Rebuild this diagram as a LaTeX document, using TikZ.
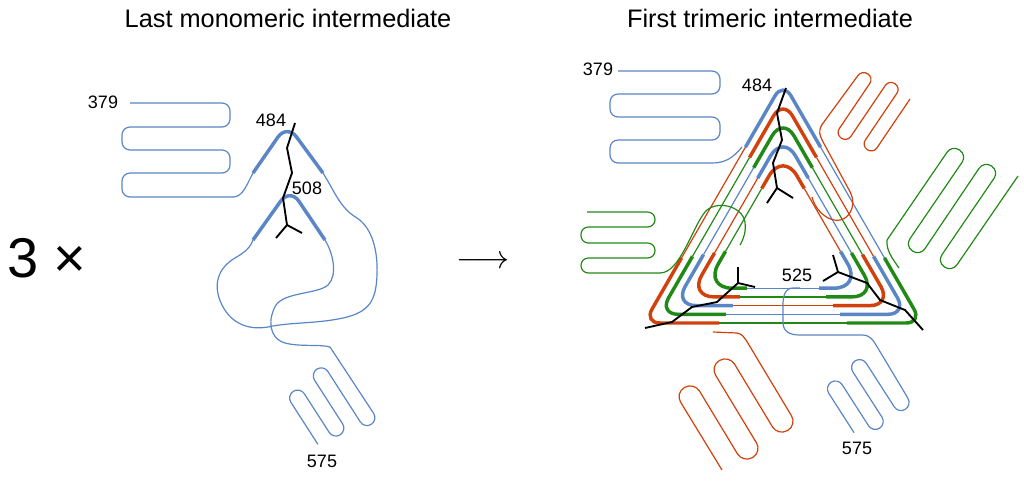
\documentclass[tikz,border=0pt]{standalone}
\usepackage{fontspec}
\setmainfont{Liberation Sans}
\usetikzlibrary{calc}
\definecolor{cb}{HTML}{5A86C6}
\definecolor{cr}{HTML}{D2400C}
\definecolor{cg}{HTML}{218A17}
\tikzset{
 thinb/.style={cb,line width=0.9pt},
 thinr/.style={cr,line width=0.9pt},
 thing/.style={cg,line width=0.9pt},
 hp/.style={rounded corners=6pt,line join=round},
 chain/.style={black,line width=1.4pt,line join=round},
 lbl/.style={font=\fontsize{13.5}{13.5}\selectfont,inner sep=0pt},
 ttl/.style={font=\fontsize{19}{19}\selectfont,inner sep=0pt},
}
\begin{document}
\begin{tikzpicture}[x=0.75pt,y=-0.75pt]
\useasboundingbox (0,0) rectangle (1024,480);
% titles
\node[ttl] (t1) at (288,18) {Last monomeric intermediate};
\node[ttl] (t2) at (770,18) {First trimeric intermediate};
\node[font=\fontsize{42}{42}\selectfont,inner sep=0pt] (three) at (47,258) {3 ×};
\node[font=\fontsize{34}{34}\selectfont,inner sep=0pt] (arr) at (483,262) {$\longrightarrow$};
%% ---------- LEFT MONOMER ----------
\draw[thinb,hp] (130,103) -- (230,103) -- (230,127) -- (122,127) -- (122,150) -- (230,150) -- (230,173) -- (122,173) -- (122,197) -- (233,197);
\draw[thinb] (233,197) .. controls (243,197) and (247,184) .. (253,173);
\draw[cb,line width=2.6pt,rounded corners=12pt] (253,173) -- (287,124) -- (323,173);
\draw[thinb] (323,173) .. controls (335,192) and (340,208) .. (357,218)
  .. controls (372,228) and (378,250) .. (377,275)
  .. controls (376,300) and (370,312) .. (343,318)
  .. controls (315,324) and (290,322) .. (268,327)
  .. controls (250,330) and (232,325) .. (222,305)
  .. controls (212,285) and (218,268) .. (235,258)
  .. controls (245,252) and (250,248) .. (253,240);
\draw[cb,line width=2.6pt,rounded corners=12pt] (253,240) -- (290,188) -- (325,240);
\draw[thinb] (325,240) .. controls (333,253) and (338,275) .. (328,285)
  .. controls (318,294) and (285,292) .. (276,305)
  .. controls (268,318) and (268,338) .. (285,343)
  .. controls (300,347) and (320,344) .. (330,347);
\draw[thinb,hp] (330,347) -- (378,420) -- (364.6,428.6) -- (323.6,364.8) -- (310.2,373.4) -- (346.9,430.5) -- (333.5,439.1) -- (300,387) -- (286.6,395.6) -- (317.9,444.3);
\draw[chain] (295,123) -- (287,148) -- (292,173) -- (283,198) -- (287,225) coordinate (ly);
\draw[chain] (276,238) -- (ly) -- (302,233);
\node[lbl] (l379) at (103,102) {379};
\node[lbl] (l484) at (271,120) {484};
\node[lbl] (l508) at (307,188) {508};
\node[lbl] (l575) at (322,461) {575};
%% ---------- RIGHT TRIMER ----------
\coordinate (G) at (783,242.7);
\coordinate (A) at (783,82);
\coordinate (R) at (922,323);
\coordinate (L) at (644,323);
\def\fr{0.27}
\foreach \k/\ct/\cR/\cL in {0/cb/cg/cr,1/cr/cb/cg,2/cg/cr/cb,3/cb/cg/cr,4/cr/cb/cg}{
  \pgfmathsetmacro{\s}{(80.3-8.7*\k)/80.3}
  \pgfmathsetmacro{\rr}{0.75*(16+3*\k)}
  \coordinate (A\k) at ($(G)!\s!(A)$);
  \coordinate (R\k) at ($(G)!\s!(R)$);
  \coordinate (L\k) at ($(G)!\s!(L)$);
  \draw[\ct,line width=0.9pt] ($(A\k)!\fr!(R\k)$) -- ($(R\k)!\fr!(A\k)$);
  \draw[\cR,line width=0.9pt] ($(R\k)!\fr!(L\k)$) -- ($(L\k)!\fr!(R\k)$);
  \draw[\cL,line width=0.9pt] ($(L\k)!\fr!(A\k)$) -- ($(A\k)!\fr!(L\k)$);
  \draw[\ct,line width=2.6pt,rounded corners=\rr pt] ($(A\k)!\fr!(L\k)$) -- (A\k) -- ($(A\k)!\fr!(R\k)$);
  \draw[\cR,line width=2.6pt,rounded corners=\rr pt] ($(R\k)!\fr!(A\k)$) -- (R\k) -- ($(R\k)!\fr!(L\k)$);
  \draw[\cL,line width=2.6pt,rounded corners=\rr pt] ($(L\k)!\fr!(R\k)$) -- (L\k) -- ($(L\k)!\fr!(A\k)$);
}
% blue 379 meander
\draw[thinb,hp] (618,71) -- (720,71) -- (720,94) -- (610,94) -- (610,117) -- (720,117) -- (720,140) -- (610,140) -- (610,163) -- (712,163);
\draw[thinb] (712,163) .. controls (725,163) and (733,158) .. (742,147);
% green left meander
\draw[thing,rounded corners=5.5pt] (587,212) -- (655,212) -- (655,227) -- (581,227) -- (581,243) -- (655,243) -- (655,258) -- (581,258) -- (581,273) -- (660,273);
\draw[thing] (660,273) .. controls (680,273) and (692,228) .. (705,212)
  .. controls (715,200) and (742,205) .. (745,222) .. controls (746,232) and (744,238) .. (740,245);
% red bottom-left
\draw[thinr] (713,332) -- (737,333) .. controls (742,334) and (744,337) .. (746,340);
\draw[thinr,rounded corners=8pt] (746,340) -- (797,425) -- (778,436) -- (729,355) -- (710,366) -- (762,452) -- (743,463) -- (694,382) -- (675,393) -- (722,470);
% red top-right
\draw[thinr] (812,197) .. controls (818,220) and (845,230) .. (852,208) .. controls (854,200) and (852,195) .. (848,188) -- (822,140);
\draw[thinr,rounded corners=5pt] (822,140) -- (818,130) -- (862,70) -- (873.6,77.8) -- (835.5,134.2) -- (847.1,142) -- (889.1,79.8) -- (900.7,87.6) -- (861.5,145.7) -- (873.1,153.5) -- (910,99);
% green right
\draw[thing] (899,268) .. controls (892,258) and (886,250) .. (887,240);
\draw[thing,rounded corners=6.5pt] (887,240) -- (952,145) -- (967,155) -- (905,246) -- (920,256) -- (984,161) -- (999,171) -- (937,262) -- (952,272) -- (1018,176);
% blue 575
\draw[thinb] (800,288) -- (793,288) .. controls (785,288) and (783,296) .. (783,305) -- (783,322) .. controls (783,332) and (790,335) .. (800,335) -- (862,335) .. controls (870,335) and (873,340) .. (876,345);
\draw[thinb,hp] (876,345) -- (912,405) -- (898.6,413.6) -- (861.9,356.5) -- (848.5,365.1) -- (886.3,423.9) -- (872.9,432.5) -- (837.8,377.9) -- (824.4,386.5) -- (854.1,432.7);
% chains
\draw[chain] (786,88) -- (777,113) -- (782,140) -- (773,163) -- (777,188) coordinate (ty);
\draw[chain] (767,203) -- (ty) -- (793,198);
\draw[chain] (645,328) -- (672,322) -- (692,307) -- (717,302) -- (738,283) coordinate (by);
\draw[chain] (738,267) -- (by) -- (755,287);
\draw[chain] (923,330) -- (905,310) -- (880,300) -- (867,283) -- (838,272) coordinate (cy);
\draw[chain] (833,255) -- (cy) -- (823,281);
\node[lbl] (r379) at (598,69) {379};
\node[lbl] (r484) at (757,85) {484};
\node[lbl] (r525) at (797,275) {525};
\node[lbl] (r575) at (857,448) {575};
\end{tikzpicture}
\end{document}
